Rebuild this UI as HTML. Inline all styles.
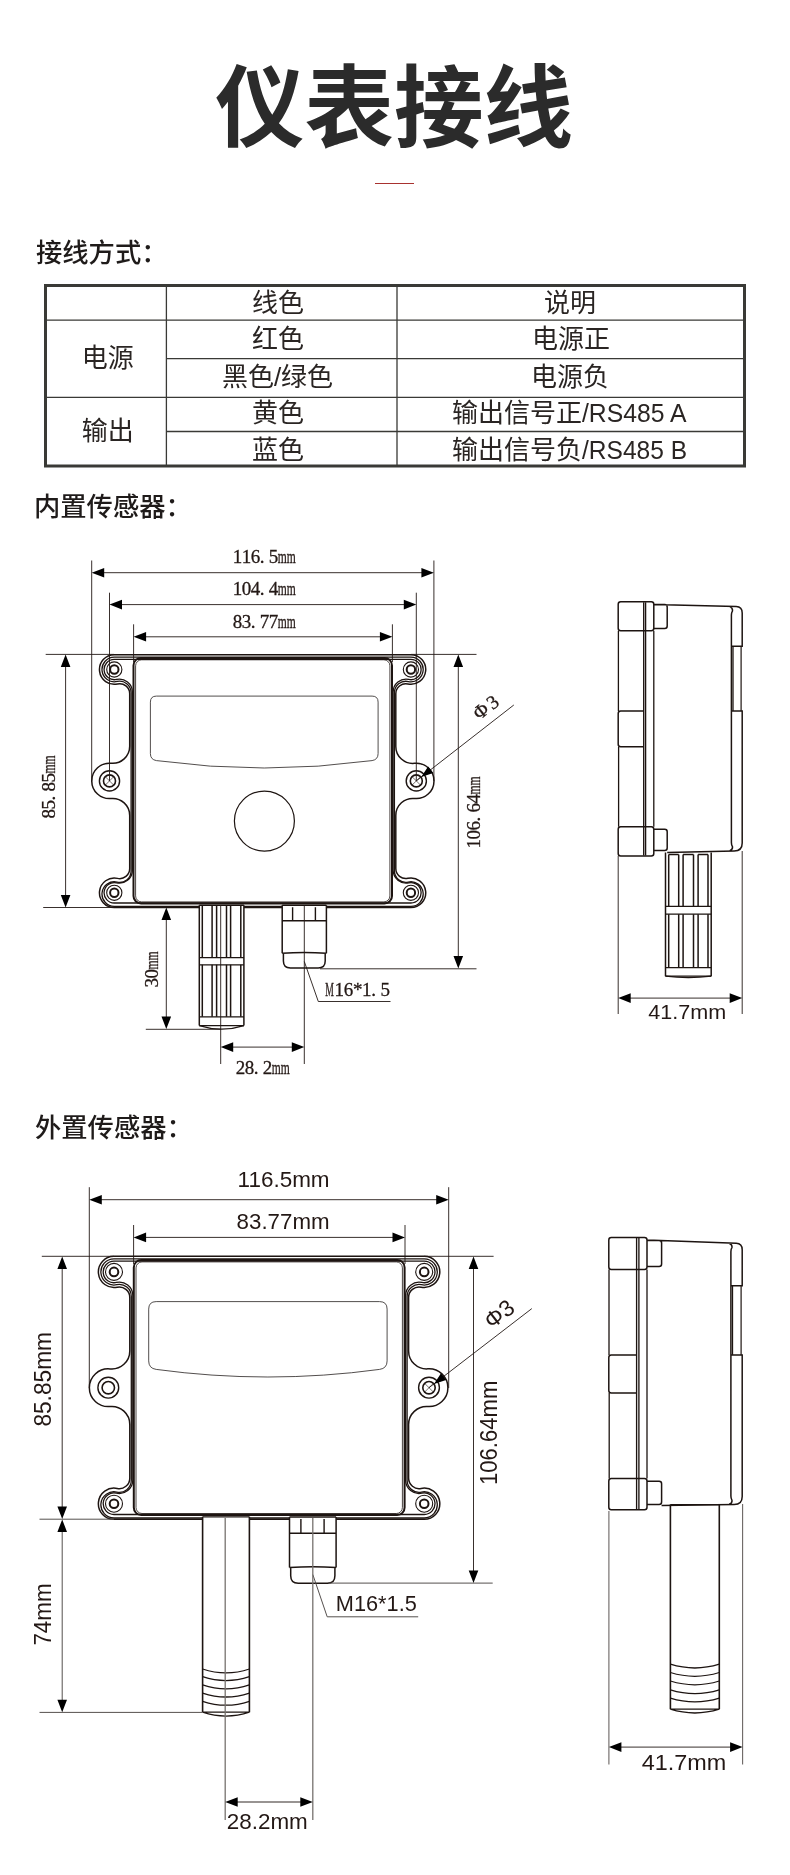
<!DOCTYPE html>
<html lang="zh">
<head>
<meta charset="utf-8">
<title>仪表接线</title>
<style>
html,body{margin:0;padding:0;background:#fff;}
body{width:790px;height:1875px;position:relative;overflow:hidden;font-family:"Liberation Sans","Noto Sans CJK SC",sans-serif;color:#2e2a28;}
.title{position:absolute;left:-1px;top:43.5px;width:790px;text-align:center;font-size:89.5px;line-height:130px;font-weight:bold;color:#2b2b2b;letter-spacing:0;}
.redbar{position:absolute;left:375px;top:183px;width:39px;height:1px;background:#a8322f;}
.h{will-change:transform;position:absolute;left:35px;font-size:26.3px;line-height:30px;color:#1f1b1a;font-weight:500;white-space:nowrap;}
.tt{font-family:"Liberation Sans","Noto Sans CJK SC",sans-serif;font-size:26px;fill:#2a2523;stroke:none;text-anchor:middle;}
.tl{font-size:24.5px;}
.ds{font-family:"Liberation Serif",serif;fill:#231815;stroke:#231815;stroke-width:0.3;}
.dn{font-family:"Liberation Sans","Noto Sans CJK SC",sans-serif;fill:#231815;stroke:none;}
svg{will-change:transform;position:absolute;left:0;top:0;}
</style>
</head>
<body>
<div class="title">仪表接线</div>
<div class="redbar"></div>
<div class="h" style="top:237.5px;left:36px">接线方式：</div>

<div class="h" style="top:492px;left:33.6px">内置传感器：</div>
<div class="h" style="top:1113px;left:34.8px">外置传感器：</div>
<svg width="790" height="1875" viewBox="0 0 790 1875" fill="none" stroke="#1d1411" stroke-width="1">
<!--TABLE-->
<g stroke="#3a3a36">
<rect x="45.5" y="285.5" width="699" height="180.5" stroke-width="3"/>
<g stroke-width="1.3">
<path d="M166.4 286V466M397 286V466M46 320.2H744M166.4 358.7H744M46 397.3H744M166.4 431.5H744"/>
</g>
</g>
<g class="tt">
<text x="107.8" y="367">电源</text>
<text x="107.8" y="440">输出</text>
<text x="278" y="311.5">线色</text>
<text x="278" y="348">红色</text>
<text x="277.5" y="386">黑色/绿色</text>
<text x="278" y="422">黄色</text>
<text x="278" y="458.5">蓝色</text>
<text x="570" y="311.5">说明</text>
<text x="571" y="348">电源正</text>
<text x="570" y="386">电源负</text>
<text y="422" style="text-anchor:start"><tspan x="452">输出信号正</tspan><tspan x="582" style="font-size:26.5px" textLength="104.5" lengthAdjust="spacingAndGlyphs">/RS485 A</tspan></text>
<text y="458.5" style="text-anchor:start"><tspan x="452">输出信号负</tspan><tspan x="582" style="font-size:26.5px" textLength="105" lengthAdjust="spacingAndGlyphs">/RS485 B</tspan></text>
</g>
<!--/TABLE-->
<!--DRAWING1-->
<g id="d1">
<path stroke-width="1.5" d="M114.3 654.7L410.9 654.7A14.8 14.8 0 1 1 407.86 683.98A10 10 0 0 0 395.8 693.77L395.8 746.38A17 17 0 0 0 414.51 763.29A17.7 17.7 0 1 1 414.51 798.51A17 17 0 0 0 395.8 815.42L395.8 868.53A10 10 0 0 0 407.86 878.32A14.8 14.8 0 1 1 410.9 907.6L114.3 907.6A14.8 14.8 0 1 1 117.52 878.36A10 10 0 0 0 129.7 868.6L129.7 815.45A17 17 0 0 0 111.13 798.52A17.7 17.7 0 1 1 111.13 763.28A17 17 0 0 0 129.7 746.35L129.7 693.7A10 10 0 0 0 117.52 683.94A14.8 14.8 0 1 1 114.3 654.7Z"/>
<path stroke-width="1.3" d="M114.3 657.2L410.9 657.2A12.3 12.3 0 1 1 408.32 681.53A11.5 11.5 0 0 0 394.4 692.77L394.4 870.83A11.5 11.5 0 0 0 408.32 882.07A12.3 12.3 0 1 1 410.9 906.4L114.3 906.4A12.3 12.3 0 1 1 117.04 882.11A11.5 11.5 0 0 0 131.1 870.9L131.1 692.7A11.5 11.5 0 0 0 117.04 681.49A12.3 12.3 0 1 1 114.3 657.2Z"/>
<path stroke-width="1.3" d="M114.3 659.3L410.9 659.3A10.2 10.2 0 1 1 408.79 679.48A13 13 0 0 0 393.1 692.2L393.1 870.1A13 13 0 0 0 408.79 882.82A10.2 10.2 0 1 1 410.9 903L114.3 903A10.2 10.2 0 1 1 116.54 882.85A13 13 0 0 0 132.4 870.17L132.4 692.13A13 13 0 0 0 116.54 679.45A10.2 10.2 0 1 1 114.3 659.3Z"/>
<rect x="133.5" y="657.9" width="258.5" height="245.6" rx="7.5" stroke-width="2.0"/>
<rect x="135.6" y="659.8" width="254.3" height="242.1" rx="6" stroke-width="0.8"/>
<circle cx="114.3" cy="669.5" r="7.6" stroke-width="1.1"/>
<circle cx="114.3" cy="669.5" r="4.2" stroke-width="2"/>
<circle cx="410.9" cy="669.5" r="7.6" stroke-width="1.1"/>
<circle cx="410.9" cy="669.5" r="4.2" stroke-width="2"/>
<circle cx="114.3" cy="892.8" r="7.6" stroke-width="1.1"/>
<circle cx="114.3" cy="892.8" r="4.2" stroke-width="2"/>
<circle cx="410.9" cy="892.8" r="7.6" stroke-width="1.1"/>
<circle cx="410.9" cy="892.8" r="4.2" stroke-width="2"/>
<circle cx="109.5" cy="780.9" r="10.1" stroke-width="1.4"/>
<circle cx="109.5" cy="780.9" r="6.0" stroke-width="1.6"/>
<path stroke-width="0.6" d="M105.3 776.7l8.4 8.4M113.7 776.7l-8.4 8.4"/>
<circle cx="416.3" cy="780.9" r="10.1" stroke-width="1.4"/>
<circle cx="416.3" cy="780.9" r="6.0" stroke-width="1.6"/>
<path stroke-width="0.6" d="M412.1 776.7l8.4 8.4M420.5 776.7l-8.4 8.4"/>
<path stroke-width="0.9" stroke="#3e3a39" d="M156.4 696.1H372.1Q378.1 696.1 378.1 702.1V753.6Q378.1 759.6 372.1 760.6Q264.25 775.4 156.4 760.6Q150.4 759.6 150.4 753.6V702.1Q150.4 696.1 156.4 696.1Z"/>
<circle cx="264.4" cy="821.1" r="30" stroke-width="1.2"/>
<path fill="#fff" stroke="none" d="M199.2 904.9H244V909.2H199.2ZM282 904.9H326.6V909.2H282Z"/>
<path stroke-width="1.5" d="M199.3 905.2V1025.6M243.9 905.2V1025.6"/>
<path stroke-width="1.3" d="M199.3 957.6H243.9M199.3 964.8H243.9M199.3 1016.8H243.9M199.3 1025.6H243.9"/>
<path stroke-width="1.2" d="M199.3 1025.6Q221.6 1032.8 243.9 1025.6"/>
<path stroke-width="1.5" d="M202.3 905.2V957.6M202.3 964.8V1016.8M212.1 905.2V957.6M212.1 964.8V1016.8M216.6 905.2V957.6M216.6 964.8V1016.8M226.5 905.2V957.6M226.5 964.8V1016.8M230.6 905.2V957.6M230.6 964.8V1016.8M240.8 905.2V957.6M240.8 964.8V1016.8M199.3 905.2H243.9"/>
<path stroke-width="1.5" d="M282.2 905.2V953.3M326.4 905.2V953.3M282.2 920.8H326.4M282.2 905.2H326.4"/>
<path stroke-width="1.4" d="M292.6 907.2V920.8M315.4 907.2V920.8"/>
<path stroke-width="1.5" d="M282.2 953.3Q304.3 951.7 326.4 953.3M283.4 953V961.1Q283.4 968.1 290.4 968.1H318.2Q325.2 968.1 325.2 961.1V953"/>
<path stroke="#231815" stroke-width="0.9" d="M91.7 560.5V781M433.9 560.5V781M109.5 592.7V781M416.3 592.7V781M133.6 624.3V662M392.4 624.3V662M101.5 572.7H424M119.5 604.6H406M143.5 636.8H382.5M45.7 654.4H114M411 654.4H476.5M43.2 907.5H114M320 968.8H476.5M65.6 664V898M458.3 664V959M145.8 1029.3H221M166.3 917V1019M220.7 905V1064M304.3 905V1064M230 1047.1H295M304.3 961.5L318.3 1001.5H390.5M416.3 780.9L513.8 705"/>
<path fill="#000" stroke="none" d="M91.7 572.7L104.2 567.9L104.2 577.5ZM433.9 572.7L421.4 577.5L421.4 567.9ZM109.5 604.6L122 599.8L122 609.4ZM416.3 604.6L403.8 609.4L403.8 599.8ZM133.6 636.8L146.1 632L146.1 641.6ZM392.4 636.8L379.9 641.6L379.9 632ZM65.6 654.6L70.4 667.1L60.8 667.1ZM65.6 907.4L60.8 894.9L70.4 894.9ZM458.3 654.6L463.1 667.1L453.5 667.1ZM458.3 968.6L453.5 956.1L463.1 956.1ZM166.3 907.6L171.1 920.1L161.5 920.1ZM166.3 1029.1L161.5 1016.6L171.1 1016.6ZM220.7 1047.1L233.2 1042.3L233.2 1051.9ZM304.3 1047.1L291.8 1051.9L291.8 1042.3ZM421.2 777.1L428.09 766.41L433.25 773.04Z"/>
<text class="ds" font-size="19" y="563.2"><tspan x="232.7 241.7 250.7 259.7 268.7">116.5</tspan><tspan x="277.7" textLength="18" lengthAdjust="spacingAndGlyphs">mm</tspan></text>
<text class="ds" font-size="19" y="595.1"><tspan x="232.7 241.7 250.7 259.7 268.7">104.4</tspan><tspan x="277.7" textLength="18" lengthAdjust="spacingAndGlyphs">mm</tspan></text>
<text class="ds" font-size="19" y="628.2"><tspan x="232.7 241.7 250.7 259.7 268.7">83.77</tspan><tspan x="277.7" textLength="18" lengthAdjust="spacingAndGlyphs">mm</tspan></text>
<text class="ds" font-size="19" y="1073.6"><tspan x="235.8 244.8 253.8 262.8">28.2</tspan><tspan x="271.8" textLength="18" lengthAdjust="spacingAndGlyphs">mm</tspan></text>
<text class="ds" font-size="19" y="995.7"><tspan x="325.3" textLength="8.6" lengthAdjust="spacingAndGlyphs">M</tspan><tspan x="334.5 343.7 352.9 362.1 371.3 380.5">16*1.5</tspan></text>
<g transform="rotate(-90 55.2 818.6)"><text class="ds" font-size="19" y="818.6"><tspan x="55.2 64.2 73.2 82.2 91.2">85.85</tspan><tspan x="100.2" textLength="18" lengthAdjust="spacingAndGlyphs">mm</tspan></text></g>
<g transform="rotate(-90 480.4 848.5)"><text class="ds" font-size="19" y="848.5"><tspan x="480.4 489.4 498.4 507.4 516.4 525.4">106.64</tspan><tspan x="534.4" textLength="18" lengthAdjust="spacingAndGlyphs">mm</tspan></text></g>
<g transform="rotate(-90 158 987.4)"><text class="ds" font-size="19" y="987.4"><tspan x="158 167">30</tspan><tspan x="176" textLength="18" lengthAdjust="spacingAndGlyphs">mm</tspan></text></g>
<g transform="rotate(-37.9 479.3 720.6)"><text class="ds" font-size="19.5" x="479.3 496.3" y="720.6">Φ3</text></g>
</g>
<g id="s1">
<path stroke-width="1.5" d="M620.7 601.7H651.3Q653.8 601.7 653.8 604.2V628.3Q653.8 630.8 651.3 630.8H620.7Q618.2 630.8 618.2 628.3V604.2Q618.2 601.7 620.7 601.7ZM620.7 826.7H651.3Q653.8 826.7 653.8 829.2V853.4Q653.8 855.9 651.3 855.9H620.7Q618.2 855.9 618.2 853.4V829.2Q618.2 826.7 620.7 826.7ZM653.8 604.6H664.7Q667.2 604.6 667.2 607.1V626.1Q667.2 628.6 664.7 628.6H653.8M653.8 829.2H664.7Q667.2 829.2 667.2 831.7V848.1Q667.2 850.6 664.7 850.6H653.8M643.7 710.9H620.7Q618.2 710.9 618.2 713.4V744.3Q618.2 746.8 620.7 746.8H643.7M653.8 604.4L736.2 606.6Q742.2 606.8 742.2 613.1V646.2H731.9M731.9 710.9H742.2V843Q742.2 851 734.2 851L667.2 852.5M729.9 606.9Q733 608.1 732.4 611.1Q731.4 612.6 731.4 615.1V842.5Q731.4 845 732.4 846.5Q733 849.5 729.9 850.7"/>
<path stroke-width="1.3" d="M733 646.2V710.9"/>
<path stroke-width="1.2" d="M741.1 646.2V710.9"/>
<path stroke-width="1.35" d="M643.7 602.2V855.4M645.6 602.2V855.4"/>
<path stroke-width="1.3" d="M653.8 630.8V826.7M618.4 630.8V710.9M618.6 746.8V826.7"/>
<path stroke-width="1.5" d="M665.5 852.5V976.2M711.2 852.5V976.2"/>
<path stroke-width="1.3" d="M665.5 906.3H711.2M665.5 914.2H711.2M665.5 967.6H711.2M665.5 976.2H711.2"/>
<path stroke-width="1.2" d="M665.5 976.2Q688.35 979 711.2 976.2"/>
<path stroke-width="1.5" d="M668.7 854.5V906.3M668.7 914.2V967.6M678.7 854.5V906.3M678.7 914.2V967.6M683.1 854.5V906.3M683.1 914.2V967.6M693.5 854.5V906.3M693.5 914.2V967.6M698.1 854.5V906.3M698.1 914.2V967.6M708 854.5V906.3M708 914.2V967.6M668.7 854.5H678.7M683.1 854.5H693.5M698.1 854.5H708"/>
<path stroke="#231815" stroke-width="0.9" d="M618.2 856V1014M742.2 851V1014M628 998.1H732"/>
<path fill="#000" stroke="none" d="M618.2 998.1L630.7 993.3L630.7 1002.9ZM742.2 998.1L729.7 1002.9L729.7 993.3Z"/>
<text class="dn" font-size="20.5" x="648.2" y="1019" textLength="78" lengthAdjust="spacingAndGlyphs">41.7mm</text>
</g>
<g id="d2">
<path stroke-width="1.5" d="M114 1256.3L424.2 1256.3A15.6 15.6 0 1 1 421.15 1287.2A10.5 10.5 0 0 0 408.6 1297.5L408.6 1350.88A18 18 0 0 0 427.77 1368.84A18.9 18.9 0 1 1 427.77 1406.56A18 18 0 0 0 408.6 1424.52L408.6 1478.1A10.5 10.5 0 0 0 421.15 1488.4A15.6 15.6 0 1 1 424.2 1519.3L114 1519.3A15.6 15.6 0 1 1 117.17 1488.43A10.5 10.5 0 0 0 129.8 1478.14L129.8 1424.43A18 18 0 0 0 110.09 1406.51A18.9 18.9 0 1 1 110.09 1368.89A18 18 0 0 0 129.8 1350.97L129.8 1297.46A10.5 10.5 0 0 0 117.17 1287.17A15.6 15.6 0 1 1 114 1256.3Z"/>
<path stroke-width="1.3" d="M114 1258.8L424.2 1258.8A13.1 13.1 0 1 1 421.54 1284.73A12 12 0 0 0 407.1 1296.48L407.1 1480.32A12 12 0 0 0 421.54 1492.07A13.1 13.1 0 1 1 424.2 1518L114 1518A13.1 13.1 0 1 1 116.77 1492.1A12 12 0 0 0 131.3 1480.37L131.3 1296.43A12 12 0 0 0 116.77 1284.7A13.1 13.1 0 1 1 114 1258.8Z"/>
<path stroke-width="1.3" d="M114 1261.1L424.2 1261.1A10.8 10.8 0 1 1 421.93 1282.46A13.5 13.5 0 0 0 405.6 1295.66L405.6 1479.94A13.5 13.5 0 0 0 421.93 1493.14A10.8 10.8 0 1 1 424.2 1514.5L114 1514.5A10.8 10.8 0 1 1 116.36 1493.16A13.5 13.5 0 0 0 132.8 1479.99L132.8 1295.61A13.5 13.5 0 0 0 116.36 1282.44A10.8 10.8 0 1 1 114 1261.1Z"/>
<rect x="133.8" y="1259.9" width="270.8" height="255.2" rx="7.5" stroke-width="2.0"/>
<rect x="136" y="1261.9" width="266.4" height="251.6" rx="6" stroke-width="0.8"/>
<circle cx="114" cy="1271.9" r="8.5" stroke-width="1.1"/>
<circle cx="114" cy="1271.9" r="4.3" stroke-width="2"/>
<circle cx="424.2" cy="1271.9" r="8.5" stroke-width="1.1"/>
<circle cx="424.2" cy="1271.9" r="4.3" stroke-width="2"/>
<circle cx="114" cy="1503.7" r="8.5" stroke-width="1.1"/>
<circle cx="114" cy="1503.7" r="4.3" stroke-width="2"/>
<circle cx="424.2" cy="1503.7" r="8.5" stroke-width="1.1"/>
<circle cx="424.2" cy="1503.7" r="4.3" stroke-width="2"/>
<circle cx="108.3" cy="1387.7" r="10.4" stroke-width="1.4"/>
<circle cx="108.3" cy="1387.7" r="6.2" stroke-width="1.6"/>
<circle cx="429" cy="1387.7" r="10.4" stroke-width="1.4"/>
<circle cx="429" cy="1387.7" r="6.2" stroke-width="1.6"/>
<path stroke-width="0.6" d="M424.66 1383.36l8.68 8.68M433.34 1383.36l-8.68 8.68"/>
<path stroke-width="0.9" stroke="#3e3a39" d="M156.2 1301.6H379.6Q387.1 1301.6 387.1 1309.1V1360.9Q387.1 1368.4 379.6 1369.4Q267.9 1384.6 156.2 1369.4Q148.7 1368.4 148.7 1360.9V1309.1Q148.7 1301.6 156.2 1301.6Z"/>
<path fill="#fff" stroke="none" d="M202.6 1516.6H249.4V1521H202.6ZM289.5 1516.6H336.1V1521H289.5Z"/>
<path stroke-width="1.6" d="M202.6 1516.8V1712.2M249.4 1516.8V1712.2"/>
<path stroke-width="1.3" d="M202.6 1669Q226 1676.8 249.4 1669M202.6 1676.7Q226 1684.5 249.4 1676.7M202.6 1684.9Q226 1692.7 249.4 1684.9M202.6 1693.1Q226 1700.9 249.4 1693.1M202.6 1701.3Q226 1709.1 249.4 1701.3M202.6 1712.2Q226 1720 249.4 1712.2M202.6 1712.2H249.4M202.6 1516.8H249.4"/>
<path stroke-width="1.5" d="M289.5 1516.9V1567.5M336.1 1516.9V1567.5M289.5 1533.3H336.1M289.5 1516.9H336.1"/>
<path stroke-width="1.4" d="M300.9 1518.9V1533.3M324.1 1518.9V1533.3"/>
<path stroke-width="1.5" d="M289.5 1567.5Q312.8 1565.9 336.1 1567.5M290.7 1567.2V1575.8Q290.7 1583.3 298.2 1583.3H327.4Q334.9 1583.3 334.9 1575.8V1567.2"/>
<path stroke="#231815" stroke-width="0.9" d="M89.3 1187.2V1388M448.7 1187.2V1388M133.6 1225V1264M405 1225V1264M99.5 1199.7H438.6M143.7 1237.4H395M41.8 1256.3H114M424 1256.3H493.6M62.2 1266V1509.5M473.5 1266V1573.5M429 1387.7L531.8 1308.6"/>
<path stroke="#55504e" stroke-width="1" d="M39.5 1519.2H114M39.5 1712.4H202.6M62.2 1529V1702.5M329 1583.1H492.7M312.8 1574.5L327.2 1616.8H418.2"/>
<path stroke="#77726f" stroke-width="1.3" d="M225.2 1518V1820M312.8 1518V1820M235 1802H303"/>
<path fill="#000" stroke="none" d="M89.3 1199.7L101.8 1194.9L101.8 1204.5ZM448.7 1199.7L436.2 1204.5L436.2 1194.9ZM133.6 1237.4L146.1 1232.6L146.1 1242.2ZM405 1237.4L392.5 1242.2L392.5 1232.6ZM62.2 1256.4L67 1268.9L57.4 1268.9ZM62.2 1519L57.4 1506.5L67 1506.5ZM62.2 1519.4L67 1531.9L57.4 1531.9ZM62.2 1712.2L57.4 1699.7L67 1699.7ZM473.5 1256.4L478.3 1268.9L468.7 1268.9ZM473.5 1583.1L468.7 1570.6L478.3 1570.6ZM225.2 1802L237.7 1797.2L237.7 1806.8ZM312.8 1802L300.3 1806.8L300.3 1797.2ZM434 1383.9L441.02 1373.3L446.1 1379.99Z"/>
<text class="dn" font-size="22" x="237.6" y="1186.7" textLength="92" lengthAdjust="spacingAndGlyphs">116.5mm</text>
<text class="dn" font-size="22" x="236.6" y="1228.7" textLength="93" lengthAdjust="spacingAndGlyphs">83.77mm</text>
<text class="dn" font-size="22" x="226.8" y="1829.4" textLength="81" lengthAdjust="spacingAndGlyphs">28.2mm</text>
<text class="dn" font-size="22" x="335.8" y="1610.7" textLength="81" lengthAdjust="spacingAndGlyphs">M16*1.5</text>
<g transform="rotate(-90 51.3 1426.6)"><text class="dn" font-size="24.3" x="51.3" y="1426.6" textLength="94.5" lengthAdjust="spacingAndGlyphs">85.85mm</text></g>
<g transform="rotate(-90 50.9 1645.6)"><text class="dn" font-size="24.3" x="50.9" y="1645.6" textLength="62.3" lengthAdjust="spacingAndGlyphs">74mm</text></g>
<g transform="rotate(-90 497.3 1485)"><text class="dn" font-size="24.3" x="497.3" y="1485" textLength="104.3" lengthAdjust="spacingAndGlyphs">106.64mm</text></g>
<g transform="rotate(-37.7 491.7 1329.8)"><text class="dn" font-size="23" x="491.7" y="1329.8">Φ3</text></g>
</g>
<g id="s2">
<path stroke-width="1.5" d="M611.3 1237.6H644.5Q647 1237.6 647 1240.1V1266.9Q647 1269.4 644.5 1269.4H611.3Q608.8 1269.4 608.8 1266.9V1240.1Q608.8 1237.6 611.3 1237.6ZM611.3 1478.4H644.5Q647 1478.4 647 1480.9V1507.3Q647 1509.8 644.5 1509.8H611.3Q608.8 1509.8 608.8 1507.3V1480.9Q608.8 1478.4 611.3 1478.4ZM647 1240.4H659.1Q661.6 1240.4 661.6 1242.9V1263.9Q661.6 1266.4 659.1 1266.4H647M647 1481.3H659.1Q661.6 1481.3 661.6 1483.8V1502.1Q661.6 1504.6 659.1 1504.6H647M636.6 1354.9H611.3Q608.8 1354.9 608.8 1357.4V1390.4Q608.8 1392.9 611.3 1392.9H636.6M647 1240L736.2 1243.2Q742.2 1243.4 742.2 1249.7V1285.8H731.4M731.4 1354.9H742.2V1496.6Q742.2 1504.6 734.2 1504.6L661.6 1505.4M729.4 1243.5Q732.5 1244.7 731.9 1247.7Q730.9 1249.2 730.9 1251.7V1496.1Q730.9 1498.6 731.9 1500.1Q732.5 1503.1 729.4 1504.3"/>
<path stroke-width="1.3" d="M732.5 1285.8V1354.9"/>
<path stroke-width="1.2" d="M741.1 1285.8V1354.9"/>
<path stroke-width="1.35" d="M636.6 1238.1V1509.3M638.9 1238.1V1509.3"/>
<path stroke-width="1.3" d="M647 1269.4V1478.4M609 1269.4V1354.9M609.2 1392.9V1478.4"/>
<path stroke-width="1.6" d="M670.4 1504.6V1709.2M719.3 1504.6V1709.2"/>
<path stroke-width="1.3" d="M670.4 1664.2Q694.85 1671.8 719.3 1664.2M670.4 1672.5Q694.85 1680.1 719.3 1672.5M670.4 1681Q694.85 1688.6 719.3 1681M670.4 1689.8Q694.85 1697.4 719.3 1689.8M670.4 1698.1Q694.85 1705.7 719.3 1698.1M670.4 1709.2Q694.85 1716.8 719.3 1709.2M670.4 1709.2H719.3M670.4 1504.6H719.3"/>
<path stroke="#6b6664" stroke-width="1.1" d="M608.9 1511V1764.4M742.6 1504V1764.4"/>
<path stroke="#231815" stroke-width="0.9" d="M618.8 1747.1H732"/>
<path fill="#000" stroke="none" d="M608.9 1747.1L621.4 1742.3L621.4 1751.9ZM742.6 1747.1L730.1 1751.9L730.1 1742.3Z"/>
<text class="dn" font-size="22" x="641.8" y="1769.8" textLength="84.5" lengthAdjust="spacingAndGlyphs">41.7mm</text>
</g>
<!--DRAWING2-->
</svg>
</body>
</html>
